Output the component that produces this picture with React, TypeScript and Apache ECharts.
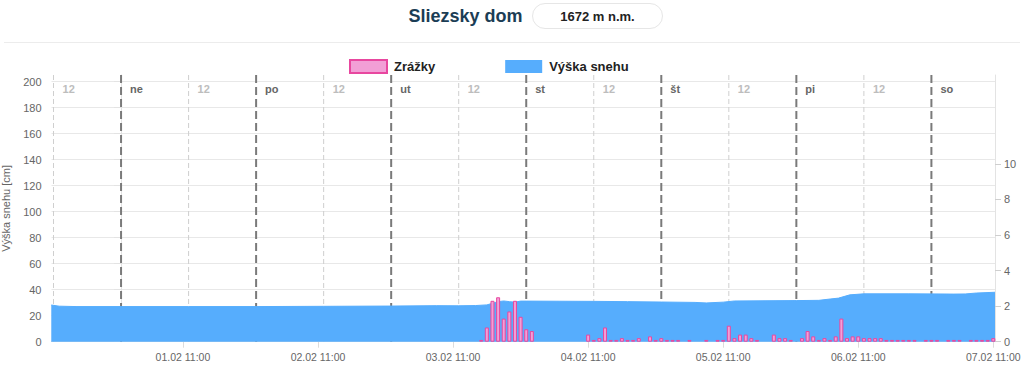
import React, { useEffect, useRef } from "react";
import * as echarts from "echarts";

// ---- data ----
// hours counted from 01.02 00:00
const snowHours = [-12.4, -11, -8, 0, 12, 24, 36, 48, 56, 60, 63, 65, 66, 67, 68, 69, 70, 71, 72, 78, 84, 90, 96, 102, 104, 107, 109, 120, 124, 126, 127.5, 129.5, 132, 140, 148, 150, 152, 155.3];
const snowCm = [28.2, 27.3, 27.0, 27.0, 27.0, 27.0, 27.2, 27.4, 27.7, 27.6, 27.8, 28.3, 29.5, 30.8, 31.3, 30.8, 30.4, 31.2, 31.2, 31.1, 31.0, 30.8, 30.5, 30.2, 29.8, 30.4, 31.3, 31.6, 31.8, 32.8, 33.5, 36.0, 36.8, 36.8, 36.6, 36.7, 37.4, 38.0];

const rainHours = [64, 65, 66, 67, 68, 69, 70, 71, 72, 73,
  83, 84, 85, 86, 87, 88, 89, 90, 91, 92,
  94, 95, 96, 97, 98, 99, 101, 104, 106,
  107, 108, 109, 110, 111, 112, 113, 116, 117, 118, 119, 121, 122, 123, 124, 125, 126, 127, 128, 129, 130, 131,
  132, 133, 134, 135, 136, 137, 138, 139, 140, 141, 143, 144, 145, 147, 148, 149, 151, 152, 153, 154, 155];
const rainMm = [0.1, 0.8, 2.3, 2.5, 1.3, 1.7, 2.3, 1.4, 0.7, 0.6,
  0.4, 0.1, 0.2, 0.8, 0.1, 0.1, 0.2, 0.1, 0.1, 0.2,
  0.3, 0.1, 0.2, 0.1, 0.1, 0.1, 0.1, 0.1, 0.1,
  0.1, 0.9, 0.2, 0.4, 0.4, 0.2, 0.1, 0.4, 0.2, 0.2, 0.1, 0.2, 0.6, 0.3, 0.1, 0.2, 0.1, 0.3, 1.3, 0.2, 0.3, 0.3,
  0.2, 0.2, 0.2, 0.2, 0.1, 0.1, 0.1, 0.1, 0.1, 0.1, 0.1, 0.1, 0.1, 0.1, 0.1, 0.1, 0.1, 0.1, 0.1, 0.1, 0.2];

const dayLineHours = [0, 24, 48, 72, 96, 120, 144];
const dayLabels = ["ne", "po", "ut", "st", "št", "pi", "so"];
const noonLineHours = [-12, 12, 36, 60, 84, 108, 132];
const noonLabel = "12";

const xTickHours = [11, 35, 59, 83, 107, 131, 155];
const xTickLabels = ["01.02 11:00", "02.02 11:00", "03.02 11:00", "04.02 11:00", "05.02 11:00", "06.02 11:00", "07.02 11:00"];
const leftTicks = [0, 20, 40, 60, 80, 100, 120, 140, 160, 180, 200];
const rightTicks = [0, 2, 4, 6, 8, 10];

const FONT = "'Liberation Sans', Arial, Helvetica, sans-serif";

export default function App() {
  const ref = useRef<HTMLDivElement>(null);
  useEffect(() => {
    if (!ref.current) return;
    const chart = echarts.init(ref.current, null, { renderer: "svg" });

    const makeLines = (labels: (i: number) => string, dark: boolean) =>
      (params: any, api: any) => {
        const x = api.coord([api.value(0), 0])[0];
        const cs = params.coordSys;
        const top = cs.y;
        const bottom = cs.y + cs.height;
        return {
          type: "group",
          children: [
            {
              type: "line",
              shape: { x1: x, y1: top, x2: x, y2: bottom },
              style: dark
                ? { stroke: "#7a7a7a", lineWidth: 2, lineDash: [8, 4] }
                : { stroke: "#cfcfcf", lineWidth: 1, lineDash: [5, 3] },
            },
            {
              type: "text",
              x: x + 9,
              y: top + 14,
              style: {
                text: labels(params.dataIndex),
                fill: dark ? "#666" : "#bdbdbd",
                fontWeight: "bold",
                fontSize: 11,
                fontFamily: FONT,
                verticalAlign: "middle",
                align: "left",
              },
            },
          ],
        };
      };

    chart.setOption({
      animation: false,
      textStyle: { fontFamily: FONT },
      grid: { left: 51.5, right: 29, top: 75, bottom: 29.3, outerBoundsMode: "none", containLabel: false },
      legend: {
        left: 344,
        top: 54,
        itemWidth: 37,
        itemHeight: 13,
        itemGap: 70,
        textStyle: { fontWeight: "bold", fontSize: 13, color: "#222", fontFamily: FONT, padding: [0, 0, 0, 2] },
        data: [
          { name: "Zrážky", icon: "rect" },
          { name: "Výška snehu", icon: "rect" },
        ],
      },
      graphic: [
        {
          type: "text",
          x: 465.5,
          y: 16,
          style: {
            text: "Sliezsky dom",
            fill: "#1b3d55",
            fontWeight: "bold",
            fontSize: 18,
            fontFamily: FONT,
            align: "center",
            verticalAlign: "middle",
          },
        },
        {
          type: "rect",
          shape: { x: 532.5, y: 3.5, width: 130, height: 25, r: 12.5 },
          style: { fill: "#fff", stroke: "#e6e6e6", lineWidth: 1 },
        },
        {
          type: "text",
          x: 597.5,
          y: 16,
          style: {
            text: "1672 m n.m.",
            fill: "#222",
            fontWeight: "bold",
            fontSize: 13,
            fontFamily: FONT,
            align: "center",
            verticalAlign: "middle",
          },
        },
        {
          type: "line",
          shape: { x1: 4, y1: 42.5, x2: 1020, y2: 42.5 },
          style: { stroke: "#ececec", lineWidth: 1 },
        },
      ],
      xAxis: {
        type: "value",
        min: -12.36,
        max: 155.3,
        axisLine: { show: true, lineStyle: { color: "#dcdcdc" } },
        axisTick: { show: true, customValues: xTickHours, length: 6, lineStyle: { color: "#dcdcdc" } },
        axisLabel: {
          customValues: xTickHours,
          formatter: (v: number) => xTickLabels[xTickHours.indexOf(Math.round(v))] ?? "",
          color: "#666",
          fontSize: 10.5,
          margin: 10,
          fontFamily: FONT,
        },
        splitLine: { show: false },
      },
      yAxis: [
        {
          type: "value",
          min: 0,
          max: 205,
          name: "Výška snehu [cm]",
          nameLocation: "middle",
          nameGap: 40,
          nameTextStyle: { color: "#666", fontSize: 11, fontFamily: FONT },
          axisLine: { show: true, lineStyle: { color: "#e3e3e3" } },
          axisTick: { show: true, customValues: leftTicks, length: 7, lineStyle: { color: "#e3e3e3" } },
          axisLabel: { customValues: leftTicks, color: "#666", fontSize: 11, margin: 10, fontFamily: FONT },
          splitLine: { show: true, lineStyle: { color: "#e8e8e8" } },
        },
        {
          type: "value",
          min: 0,
          max: 15,
          position: "right",
          axisLine: { show: true, lineStyle: { color: "#e3e3e3" } },
          axisTick: { show: true, customValues: rightTicks, length: 6, lineStyle: { color: "#cfcfcf" } },
          axisLabel: { customValues: rightTicks, color: "#666", fontSize: 11, margin: 9, fontFamily: FONT },
          splitLine: { show: false },
        },
      ],
      series: [
        {
          type: "custom",
          name: "noonLines",
          z: 1,
          silent: true,
          renderItem: makeLines(() => noonLabel, false),
          data: noonLineHours.map((h) => [h, 0]),
          encode: { x: 0, y: 1 },
        },
        {
          type: "custom",
          name: "dayLines",
          z: 1,
          silent: true,
          renderItem: makeLines((i) => dayLabels[i], true),
          data: dayLineHours.map((h) => [h, 0]),
          encode: { x: 0, y: 1 },
        },
        {
          type: "line",
          name: "Výška snehu",
          z: 2,
          showSymbol: false,
          symbol: "none",
          itemStyle: { color: "#56adfd" },
          lineStyle: { color: "#56adfd", width: 1 },
          areaStyle: { color: "#56adfd", opacity: 1 },
          data: snowHours.map((h, i) => [h, snowCm[i]]),
        },
        {
          type: "bar",
          name: "Zrážky",
          yAxisIndex: 1,
          z: 3,
          barWidth: 4,
          itemStyle: { color: "#f29fd6", borderColor: "#e8479f", borderWidth: 1 },
          data: rainHours.map((h, i) => [h, rainMm[i]]),
        },
      ],
    });
    return () => chart.dispose();
  }, []);
  return (
    <div
      ref={ref}
      style={{ position: "absolute", left: 0, top: 0, width: 1024, height: 371, background: "#fff" }}
    />
  );
}
